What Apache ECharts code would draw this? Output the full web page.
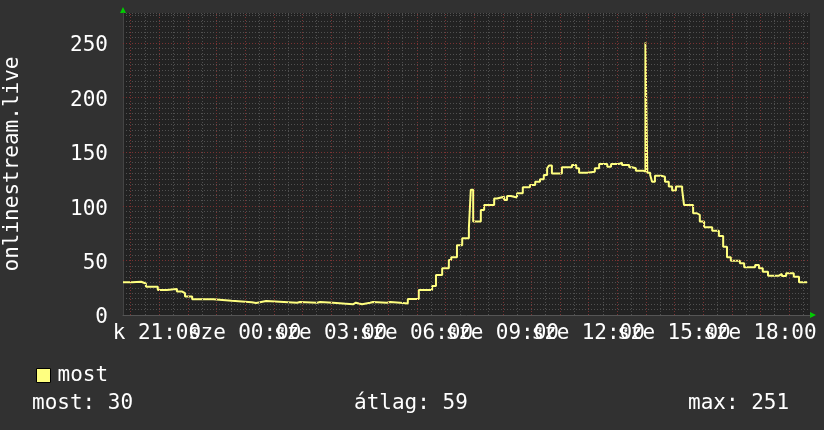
<!DOCTYPE html>
<html><head><meta charset="utf-8">
<script src="https://cdn.jsdelivr.net/npm/echarts@6/dist/echarts.min.js"></script>
<style>html,body{margin:0;padding:0;background:#313131;}#c{width:824px;height:430px;}</style>
</head><body><div id="c"></div>
<script>
// minutes relative to 00:00 (negative = previous evening)
const minutes = [-316,-297,-278,-268,-243,-224,-203,-192,-186,-171,-127,-88,-46,-37,-29,-16,49,55,91,97,124,166,172,185,202,208,237,244,265,281,304,332,340,353,367,372,384,395,409,413,418,434,441,462,468,483,489,497,510,522,537,548,558,566,573,577,583,604,625,634,640,657,673,682,699,707,724,730,745,751,759,774,779,783,789,793,799,812,820,828,835,843,856,860,879,887,893,902,919,933,942,950,958,977,986,1009,1017,1025,1036,1059,1065,1074,1090,1101,1118];
const values  = [30,30.6,29,26,23,24,21.5,20,17,14.5,13,11.7,11,11.7,12.9,11.3,12,11.3,12,11.3,9.8,11.3,9.8,11.3,12,11.3,12,11.3,10.5,14.7,23,26.6,36.8,43,50.5,53,64,70.5,79.7,115,85.8,96.5,101,107,108.7,105.7,109.4,108,111.8,117.3,119.5,122.5,124.7,128.7,134.8,137.3,130,135.7,137.9,134.8,130.8,131.7,134.8,138.8,136.3,138.8,140,137.9,135.7,134.8,132.6,131.7,250.5,130.8,128.7,122.5,128,127,122.5,118,114.3,118,115,101,93.5,92,85.8,80.6,77.5,72.6,62.8,53,49.9,47.5,43.8,46,43,39.8,36.1,37.7,35.8,38.3,35.2,30,30];
const timeTickValues = [-180,0,180,360,540,720,900,1080];
const timeTickLabels = ['k 21:00','00:00','03:00','06:00','09:00','12:00','15:00','18:00'];
const dayTickValues = [-180,0,180,360,540,720,900];
const dayTickLabels = ['sze','sze','sze','sze','sze','sze','sze'];
const yTickValues = [0,50,100,150,200,250];
const seriesName = 'most';
const axisTitle = 'onlinestream.live';
const statNames = ['most','átlag','max'];
const statValues = [30,59,251];

const X_MIN = -316, X_MAX = 1124, Y_MAX = 277.5;
const FONT = '"DejaVu Sans Mono", monospace';
const data = minutes.map((m,i)=>[m, values[i]]);

const hourLines = [], halfLines = [];
for (let h = -300; h <= X_MAX; h += 60) hourLines.push({xAxis:h});
for (let h = -270; h <= X_MAX; h += 60) halfLines.push({xAxis:h});
const yMajor = yTickValues.filter(v=>v>0).map(v=>({yAxis:v}));

const chart = echarts.init(document.getElementById('c'));
const option = {
  animation:false,
  backgroundColor:'#313131',
  grid:{left:123,right:14,top:13,bottom:115,show:true,backgroundColor:'#222222',borderWidth:0,
    containLabel:false,outerBoundsMode:'none'},
  legend:{data:[seriesName],left:31,top:360,icon:'rect',itemWidth:14,itemHeight:14,
    itemStyle:{borderColor:'#000',borderWidth:1},
    textStyle:{color:'#fff',fontFamily:FONT,fontSize:21,padding:[0,0,0,2]}},
  xAxis:[{
    type:'value',min:X_MIN,max:X_MAX,interval:4,position:'bottom',
    axisLine:{show:true,onZero:false,lineStyle:{color:'#555',width:1}},axisTick:{show:false},splitLine:{show:false},
    axisLabel:{margin:8,color:'#fff',fontFamily:FONT,fontSize:21,showMinLabel:true,showMaxLabel:true,
      formatter:function(v){const i=timeTickValues.indexOf(Math.round(v)); if(i<0) return ''; return (i===0?'{a|':'{b|')+timeTickLabels[i]+'}';},
      rich:{a:{color:'#fff',fontFamily:FONT,fontSize:21,padding:[0,62,0,0]},b:{color:'#fff',fontFamily:FONT,fontSize:21,padding:[0,8,0,0]}}}
  },{
    type:'value',min:X_MIN,max:X_MAX,interval:4,position:'bottom',offset:0,
    axisLine:{show:false,onZero:false},axisTick:{show:false},splitLine:{show:false},
    axisLabel:{margin:8,color:'#fff',fontFamily:FONT,fontSize:21,align:'left',
      formatter:function(v){const i=dayTickValues.indexOf(Math.round(v)); return i<0?'':dayTickLabels[i];}}
  }],
  yAxis:{type:'value',min:0,max:Y_MAX,interval:5,
    axisLine:{show:true,onZero:false,lineStyle:{color:'#444'}},axisTick:{show:false},
    splitLine:{show:true,lineStyle:{color:'#505050',type:[1,2],width:1}},
    axisLabel:{margin:15,color:'#fff',fontFamily:FONT,fontSize:21,
      formatter:function(v){return yTickValues.indexOf(Math.round(v*100)/100)>=0?'{p|'+v+'}':'';},
      rich:{p:{color:'#fff',fontFamily:FONT,fontSize:21,padding:[6,0,0,0]}}},
    name:axisTitle,nameLocation:'middle',nameGap:100,nameRotate:90,
    nameTextStyle:{color:'#fff',fontFamily:FONT,fontSize:21}},
  series:[
    {type:'line',name:'_half',data:[],silent:true,
      markLine:{silent:true,symbol:['none','none'],label:{show:false},
        lineStyle:{color:'#505050',type:[1,2],width:1},data:halfLines}},
    {type:'line',name:'_hour',data:[],silent:true,
      markLine:{silent:true,symbol:['none','none'],label:{show:false},
        lineStyle:{color:'#7a3232',type:[1,2],width:1},data:hourLines.concat(yMajor)}},
    {type:'line',name:seriesName,data:data,step:'end',showSymbol:false,
      lineStyle:{color:'#ffff80',width:2},itemStyle:{color:'#ffff80'}}
  ],
  graphic:statNames.map((n,i)=>({type:'text',id:'stat'+i,left:[32,354,688][i],top:393,
    style:{text:n+': '+statValues[i],fill:'#fff',font:'21px "DejaVu Sans Mono", monospace'}}))
};
chart.setOption(option);
const tl = chart.convertToPixel({gridIndex:0},[X_MIN,Y_MAX]);
const br = chart.convertToPixel({gridIndex:0},[X_MAX,0]);
chart.setOption({graphic:[
  {type:'polygon',id:'upArrow',shape:{points:[[tl[0]-3,tl[1]],[tl[0]+3,tl[1]],[tl[0],tl[1]-6]]},style:{fill:'#00cc00'}},
  {type:'polygon',id:'rightArrow',shape:{points:[[br[0],br[1]-3],[br[0],br[1]+3],[br[0]+6,br[1]]]},style:{fill:'#00cc00'}}
]});
</script></body></html>
